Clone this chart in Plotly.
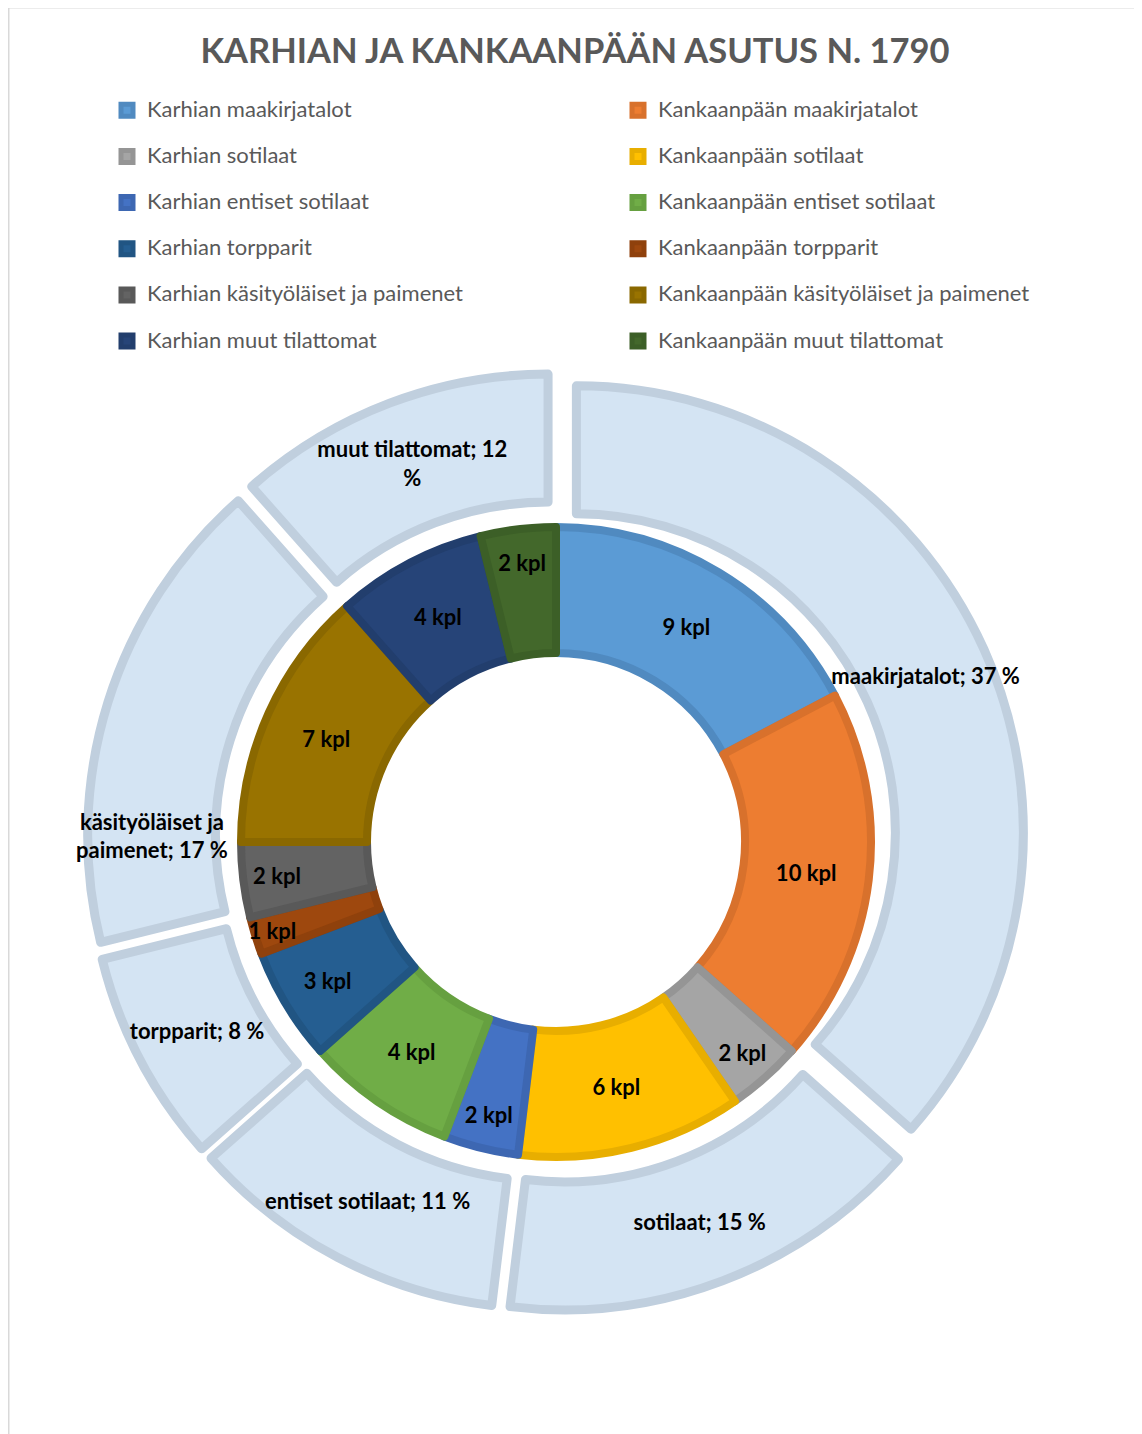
import plotly.graph_objects as go

# ---------------- data ----------------
title_text = "KARHIAN JA KANKAANPÄÄN ASUTUS N. 1790"

inner_labels = [
    "Karhian maakirjatalot", "Kankaanpään maakirjatalot",
    "Karhian sotilaat", "Kankaanpään sotilaat",
    "Karhian entiset sotilaat", "Kankaanpään entiset sotilaat",
    "Karhian torpparit", "Kankaanpään torpparit",
    "Karhian käsityöläiset ja paimenet", "Kankaanpään käsityöläiset ja paimenet",
    "Karhian muut tilattomat", "Kankaanpään muut tilattomat",
]
inner_values = [9, 10, 2, 6, 2, 4, 3, 1, 2, 7, 4, 2]

outer_categories = ["maakirjatalot", "sotilaat", "entiset sotilaat", "torpparit",
                    "käsityöläiset ja paimenet", "muut tilattomat"]
outer_values = [19, 8, 6, 4, 9, 6]
outer_percent = [37, 15, 11, 8, 17, 12]
outer_text = ["maakirjatalot; 37 %", "sotilaat; 15 %", "entiset sotilaat; 11 %",
              "torpparit; 8 %", "käsityöläiset ja<br>paimenet; 17 %",
              "muut tilattomat; 12<br>%"]

# ---------------- styles ----------------
inner_colors = ["#5b9bd5", "#ed7d31", "#a5a5a5", "#ffc000", "#4472c4", "#70ad47",
                "#255e91", "#9e480e", "#636363", "#997300", "#264478", "#43682b"]
inner_line_colors = ["#508ac0", "#d8712c", "#959595", "#e8ae00", "#3d67b2", "#66a040",
                     "#215583", "#8f410c", "#595959", "#8a6800", "#223e6d", "#3c5f27"]
outer_fill = "#d4e4f3"
outer_line = "#c0cfde"

OFF = 8                      # page body margin
W, H = 1142 - OFF, 1434 - OFF
cx, cy = 556 - OFF, 842 - OFF  # chart centre (px, figure coords)
R_outer, R_inner, R_hole = 447, 315, 189
R_outer_hole = 319
pull = 0.05

def dom(radius, p=0.0):
    half = radius * (1 + p)
    return dict(x=[(cx - half) / W, (cx + half) / W],
                y=[(H - cy - half) / H, (H - cy + half) / H])

legend_labels = ['<span style="font-size:22px">%s</span><br> ' % s for s in inner_labels]

fig = go.Figure()

fig.add_trace(go.Pie(
    values=outer_values, labels=outer_categories, text=outer_text,
    customdata=outer_percent,
    texttemplate="%{text}", textposition="inside", insidetextorientation="horizontal",
    hole=R_outer_hole / R_outer, pull=[pull] * len(outer_values),
    sort=False, direction="clockwise", rotation=0,
    domain=dom(R_outer, pull),
    marker=dict(colors=[outer_fill] * len(outer_values),
                line=dict(color=outer_line, width=9)),
    textfont=dict(family="Lato", size=22, color="black", weight="bold"),
    showlegend=False, hoverinfo="label+value+percent",
))

fig.add_trace(go.Pie(
    values=inner_values, labels=legend_labels,
    texttemplate="%{value} kpl", textposition="inside", insidetextorientation="horizontal",
    hole=R_hole / R_inner,
    sort=False, direction="clockwise", rotation=0,
    domain=dom(R_inner),
    marker=dict(colors=inner_colors, line=dict(color=inner_line_colors, width=8)),
    textfont=dict(family="Lato", size=22, color="black", weight="bold"),
    showlegend=True, hoverinfo="value+percent",
))

fig.update_layout(
    width=W, height=H,
    margin=dict(l=0, r=0, t=0, b=0),
    paper_bgcolor="white", plot_bgcolor="white",
    title=dict(text=title_text, x=(575 - OFF) / W, xanchor="center",
               y=1 - (51 - OFF) / H, yanchor="middle",
               font=dict(family="Lato", size=34.5, color="#595959", weight="bold")),
    legend=dict(orientation="h", x=(107 - OFF) / W, xanchor="left",
                y=1 - 85 / H, yanchor="top",
                entrywidth=466, entrywidthmode="pixels", itemwidth=30, valign="top",
                font=dict(family="Lato", size=16.6, color="#595959"),
                bgcolor="rgba(0,0,0,0)", traceorder="normal"),
    uniformtext=dict(minsize=22, mode="show"),
    shapes=[dict(type="rect", xref="paper", yref="paper",
                 x0=0.75 / W, x1=(1140 - OFF) / W, y0=-0.01, y1=1 + 0.25 / H,
                 line=dict(color="#d9d9d9", width=1.5), fillcolor="rgba(0,0,0,0)",
                 layer="below")],
)

fig.write_html("out.html")
